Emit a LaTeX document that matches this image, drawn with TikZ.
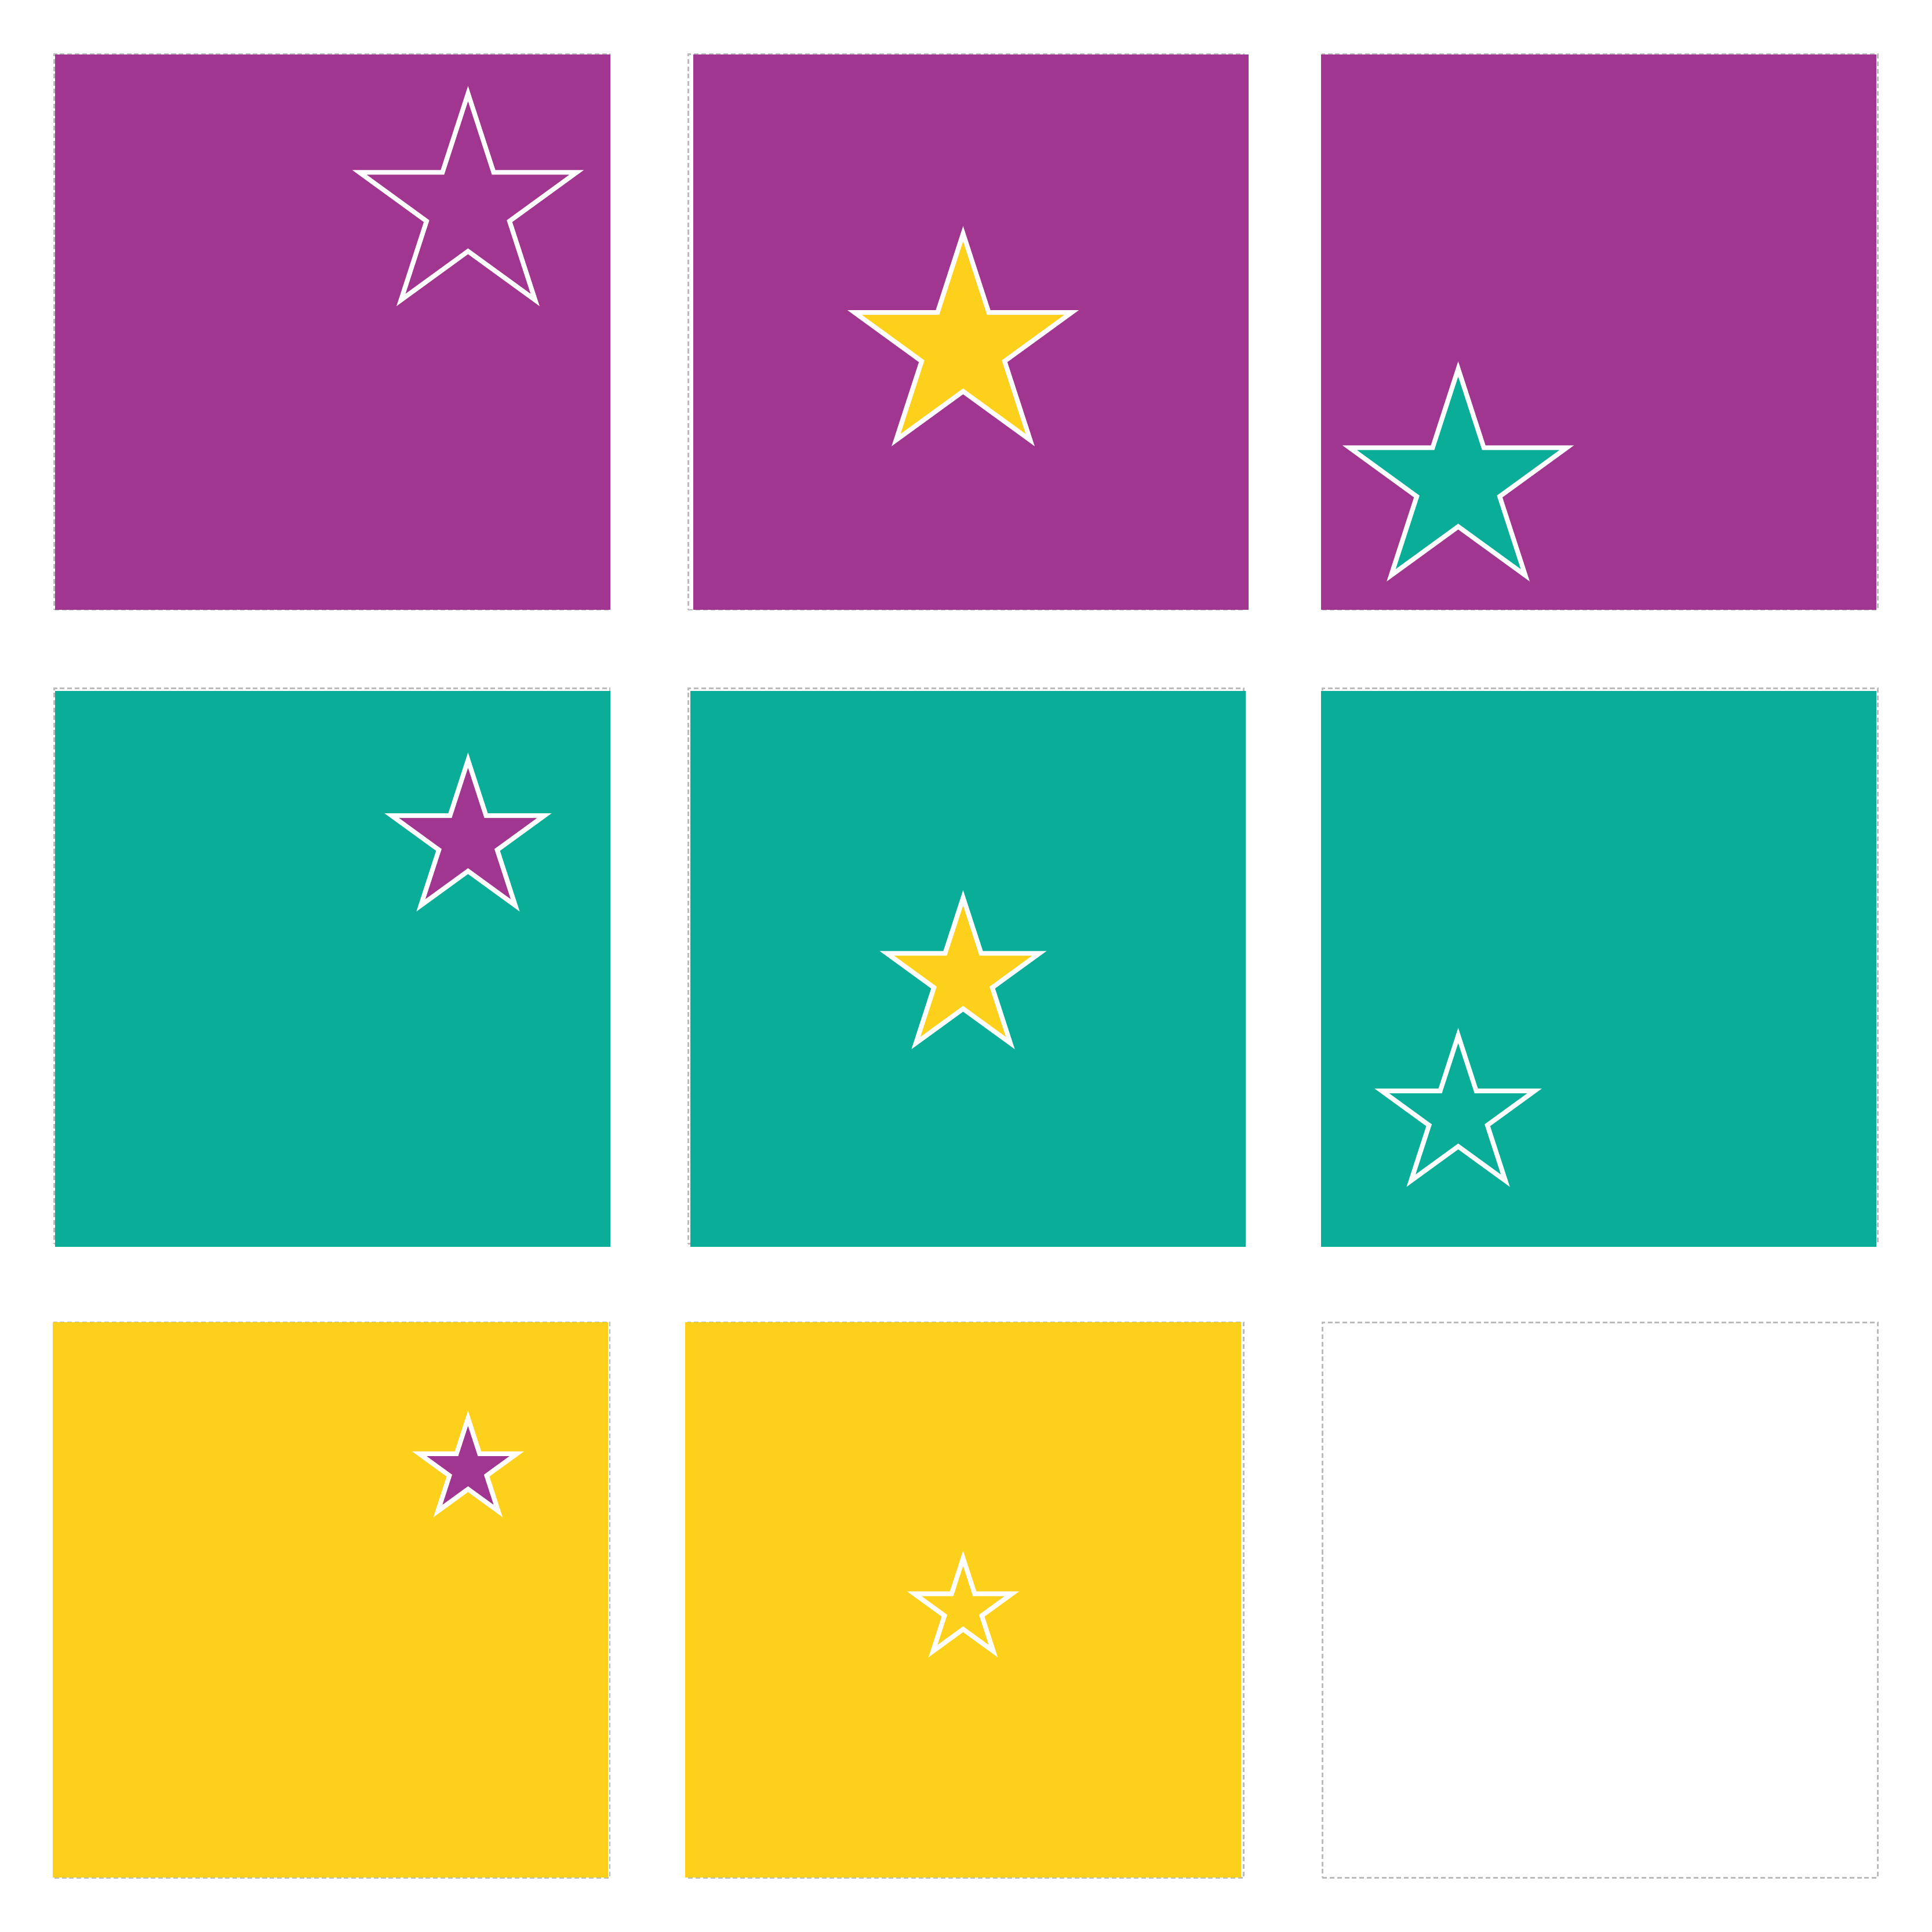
\documentclass[tikz,border=0pt]{standalone}
\usepackage{xcolor}
\usetikzlibrary{shapes.geometric}
\definecolor{plum-bg}{HTML}{A0368F}
\definecolor{teal-bg}{HTML}{0AAE98}
\definecolor{gold-bg}{HTML}{FDD01C}
\definecolor{grid-line}{HTML}{BBBBBB}

\tikzset{
  cellbox/.style={draw=grid-line, dash pattern=on 1.1pt off 0.65pt, line width=0.4pt,
    minimum width=4.6cm, minimum height=4.6cm, inner sep=0pt, outer sep=0pt},
  tilebox/.style={minimum width=4.6cm, minimum height=4.6cm, inner sep=0pt, outer sep=0pt},
  starbox/.style={star, star points=5, star point ratio=2.618, inner sep=0pt,
    outer sep=0pt, draw=white, line width=1.1pt}
}

\begin{document}
\begin{tikzpicture}
    % Grid of 3 x 3 cells, each 4.6cm, gap 0.65cm, margin 0.45cm.
    % Coordinates: (x, y), y grows upwards, page from (0,0) to (16,-16)
    %   cell centres at x = 2.75, 8.0, 13.25 and y = -2.75, -8.0, -13.25
    %   tile colour by row: plum, teal, gold (last cell left empty)
    %   star colour by column: plum, gold, teal; star size by row
    \useasboundingbox (0,0) rectangle (16,-16);

    % dashed cells
    \node[cellbox] (cell11) at (2.75,-2.75) {};
    \node[cellbox] (cell12) at (8.0,-2.75) {};
    \node[cellbox] (cell13) at (13.25,-2.75) {};
    \node[cellbox] (cell21) at (2.75,-8.0) {};
    \node[cellbox] (cell22) at (8.0,-8.0) {};
    \node[cellbox] (cell23) at (13.25,-8.0) {};
    \node[cellbox] (cell31) at (2.75,-13.25) {};
    \node[cellbox] (cell32) at (8.0,-13.25) {};
    \node[cellbox] (cell33) at (13.25,-13.25) {};

    % coloured tiles
    \node[tilebox, fill=plum-bg] (tile11) at (2.755,-2.75) {};
    \node[tilebox, fill=plum-bg] (tile12) at (8.04,-2.75) {};
    \node[tilebox, fill=plum-bg] (tile13) at (13.24,-2.75) {};
    \node[tilebox, fill=teal-bg] (tile21) at (2.755,-8.024) {};
    \node[tilebox, fill=teal-bg] (tile22) at (8.015,-8.024) {};
    \node[tilebox, fill=teal-bg] (tile23) at (13.24,-8.024) {};
    \node[tilebox, fill=gold-bg] (tile31) at (2.735,-13.25) {};
    \node[tilebox, fill=gold-bg] (tile32) at (7.976,-13.25) {};

    % stars
    \node[starbox, fill=plum-bg, minimum size=1.89cm] (star11) at (3.876,-1.72) {};
    \node[starbox, fill=gold-bg, minimum size=1.89cm] (star12) at (7.976,-2.88) {};
    \node[starbox, fill=teal-bg, minimum size=1.89cm] (star13) at (12.076,-4.0) {};
    \node[starbox, fill=plum-bg, minimum size=1.33cm] (star21) at (3.876,-6.96) {};
    \node[starbox, fill=gold-bg, minimum size=1.33cm] (star22) at (7.976,-8.1) {};
    \node[starbox, fill=teal-bg, minimum size=1.33cm] (star23) at (12.076,-9.24) {};
    \node[starbox, fill=plum-bg, minimum size=0.85cm] (star31) at (3.876,-12.17) {};
    \node[starbox, fill=gold-bg, minimum size=0.85cm] (star32) at (7.976,-13.33) {};
  \end{tikzpicture}
\end{document}
